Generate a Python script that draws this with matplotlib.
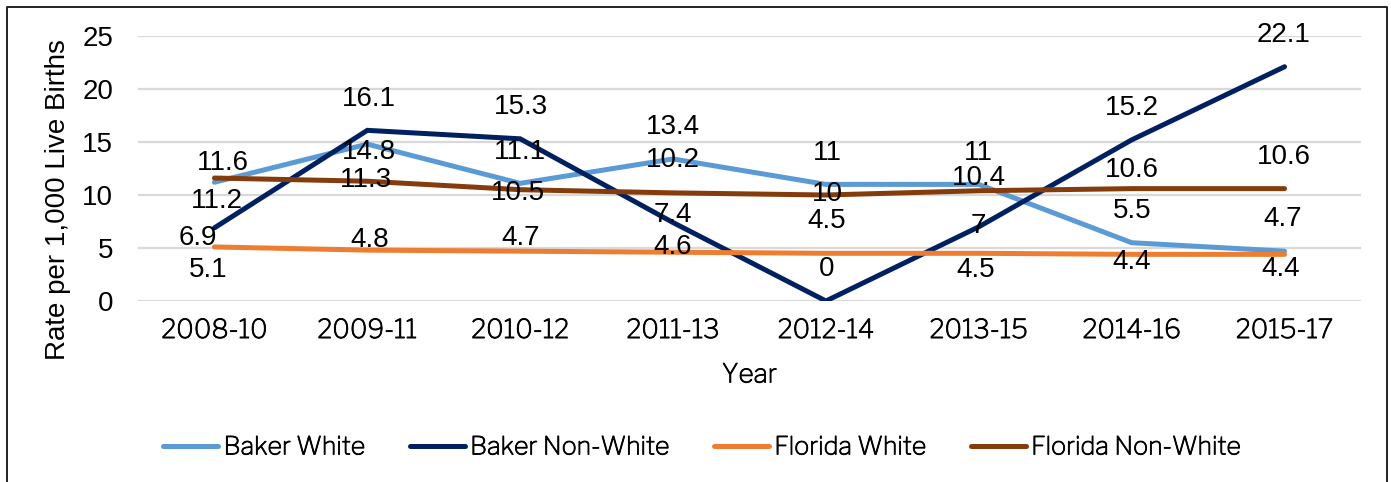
import matplotlib
matplotlib.use("Agg")
import matplotlib.pyplot as plt
from matplotlib import font_manager
from matplotlib.lines import Line2D
import matplotlib.patheffects as pe

# ---- data ----
years = ["2008-10", "2009-11", "2010-12", "2011-13", "2012-14", "2013-15", "2014-16", "2015-17"]
baker_white = [11.2, 14.8, 11.1, 13.4, 11, 11, 5.5, 4.7]
baker_nonwhite = [6.9, 16.1, 15.3, 7.4, 0, 7, 15.2, 22.1]
florida_white = [5.1, 4.8, 4.7, 4.6, 4.5, 4.5, 4.4, 4.4]
florida_nonwhite = [11.6, 11.3, 10.5, 10.2, 10, 10.4, 10.6, 10.6]
series_names = ["Baker White", "Baker Non-White", "Florida White", "Florida Non-White"]

# ---- styling ----
colors = ["#5B9BD5", "#002060", "#ED7D31", "#843C0C"]
# label offsets in pixels (dx, dy) relative to each point
label_dx = [
    [2, 2, 0, 0, 1, 0, 0, -2],
    [-17, 2, 1, 0, 1, -1, 0, -1],
    [-6, 2, 0, 0, 1, -3, 0, -4],
    [8, -1, -2, 0, 1, 0, 0, -1],
]
label_dy = [
    [-17, -6, 33, 34, 33, 33, 34, 34],
    [-8, 33, 34, 10, 34, 3, 34, 34],
    [-21, 12, 15, 7, 34, -15, -6, -13],
    [17, 3, -1, 35, 3, 15, 21, 34],
]

avail = {f.name for f in font_manager.fontManager.ttflist}
regular = "Liberation Sans" if "Liberation Sans" in avail else "DejaVu Sans"
franklin = "Libre Franklin" if "Libre Franklin" in avail else regular
plt.rcParams["font.family"] = [regular, "DejaVu Sans"]
bold_fx = [pe.withStroke(linewidth=0.6, foreground="black")]

W, H = 1391, 482
fig = plt.figure(figsize=(W / 100, H / 100), dpi=100)
fig.patch.set_facecolor("white")

left, right, top, bottom = 138, 1361, 36, 301
ax = fig.add_axes([left / W, 1 - bottom / H, (right - left) / W, (bottom - top) / H])

x = list(range(len(years)))
data = [baker_white, baker_nonwhite, florida_white, florida_nonwhite]
for vals, name, c in zip(data, series_names, colors):
    ax.plot(x, vals, color=c, lw=3.6, solid_capstyle="round", solid_joinstyle="miter",
            label=name, zorder=3)

for vals, c, dxs, dys in zip(data, colors, label_dx, label_dy):
    for xi, v, dx, dy in zip(x, vals, dxs, dys):
        ax.annotate(f"{v:g}", (xi, v), xytext=(dx, dy - 2), textcoords="offset pixels",
                    ha="center", va="center", fontsize=20, color="black", zorder=4,
                    family=[regular])

ax.set_xlim(-0.5, len(years) - 0.5)
ax.set_ylim(0, 25)
ax.set_yticks([0, 5, 10, 15, 20, 25])
ax.set_xticks(x)
ax.set_xticklabels(years, family=[franklin], fontsize=18.8, color="black")
for t in ax.get_xticklabels():
    t.set_path_effects(bold_fx)
ax.tick_params(axis="both", length=0, colors="black")
ax.tick_params(axis="y", labelsize=20, pad=18)
ax.tick_params(axis="x", pad=13)
ax.grid(axis="y", color="#D9D9D9", lw=1.6, zorder=0)
for s in ax.spines.values():
    s.set_visible(False)

ax.set_ylabel("Rate per 1,000 Live Births", fontsize=20)
ax.yaxis.set_label_coords((58 - left) / (right - left), (bottom - 200) / (bottom - top))
ax.yaxis.label.set_va("center")
ax.set_xlabel("Year", family=[franklin], fontsize=18.8)
ax.xaxis.label.set_path_effects(bold_fx)
ax.xaxis.set_label_coords(0.5, -(375 - bottom) / (bottom - top))
ax.xaxis.label.set_va("center")

leg = fig.legend(loc="center", bbox_to_anchor=(702 / W, 1 - 447 / H), ncol=4, frameon=False,
                 prop={"family": franklin, "size": 18},
                 handlelength=2.2, handletextpad=0.2, columnspacing=1.8)
for h in leg.legend_handles:
    h.set_linewidth(3.6)
    h.set_solid_capstyle("round")
for t in leg.get_texts():
    t.set_path_effects(bold_fx)

# outer frame
fx = [7 / W, 7 / W, 1387 / W, 1387 / W]
fy = [0, 1 - 7 / H, 1 - 7 / H, 0]
fig.add_artist(Line2D(fx, fy, transform=fig.transFigure, color="#222222", lw=1.4))

fig.savefig("out.png", dpi=100, facecolor="white")
